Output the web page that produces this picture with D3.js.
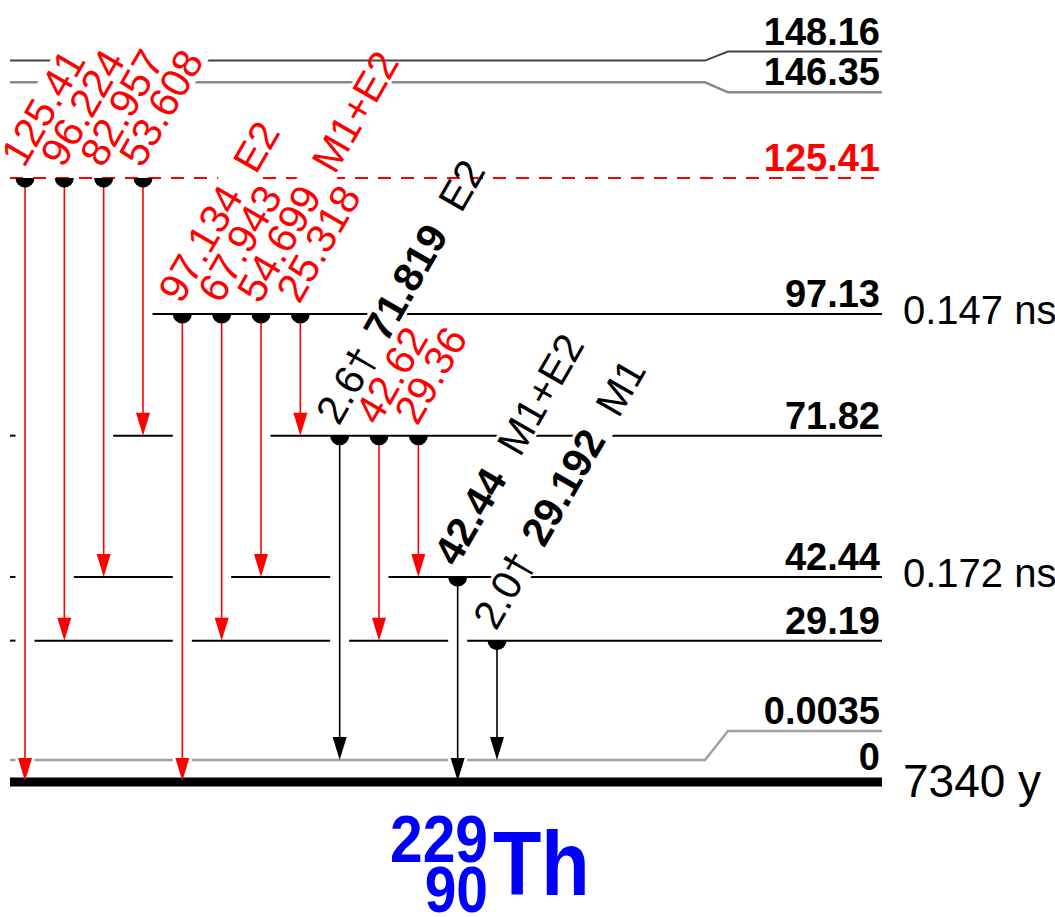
<!DOCTYPE html>
<html>
<head>
<meta charset="utf-8">
<script src="https://cdn.jsdelivr.net/npm/d3@7"></script>
<style>
body { margin: 0; background: #fff; }
text { font-family: "Liberation Sans", Arial, Helvetica, sans-serif; }
</style>
</head>
<body>
<script>
var width = 1055;
var height = 917;

// level energies (keV), their labels and half-lives
var levels = [148.16, 146.35, 125.41, 97.13, 71.82, 42.44, 29.19, 0.0035, 0];
var levelLabels = ['148.16', '146.35', '125.41', '97.13', '71.82', '42.44', '29.19', '0.0035', '0'];
var levelKnown = [1, 1, 0, 1, 1, 1, 1, 1, 1];
var halfLives = ['', '', '', '0.147 ns', '', '0.172 ns', '', '', '7340 y'];

// gamma transitions
var gFrom = [125.41, 125.41, 125.41, 125.41, 97.13, 97.13, 97.13, 97.13, 71.82, 71.82, 71.82, 42.44, 29.19];
var gTo = [0, 29.19, 42.44, 71.82, 0, 29.19, 42.44, 71.82, 0.0035, 29.19, 42.44, 0, 0.0035];
var gEnergy = ['125.41', '96.224', '82.957', '53.608', '97.134', '67.943', '54.699', '25.318', '71.819', '42.62', '29.36', '42.44', '29.192'];
var gMult = ['', '', '', '', 'E2', '', 'M1+E2', '', 'E2', '', '', 'M1+E2', 'M1'];
var gIntensity = ['', '', '', '', '', '', '', '', '2.6\u2020', '', '', '', '2.0\u2020'];
var gKnown = [0, 0, 0, 0, 0, 0, 0, 0, 1, 0, 0, 1, 1];

// layout
var lineX0 = 10, lineX1 = 882, bendA = 705, bendB = 728;
var shiftLeft = { '148.16': -8, '146.35': 5, '0.0035': -21 };
var shiftRight = { '148.16': -17, '146.35': 15, '0.0035': -50 };
var lineStart = { '97.13': 150 };
var gap = 9.5;
var labelAngle = -60;
var labelSize = 41;

var yScale = d3.scaleLinear()
    .domain([0, 125.41])
    .range([781, 178]);

var xScale = d3.scalePoint()
    .domain(d3.range(gEnergy.length))
    .range([25, 497]);

function yLeft(e) { return yScale(e) + (shiftLeft[String(e)] || 0); }
function yRight(e) { return yScale(e) + (shiftRight[String(e)] || 0); }

var svg = d3.select('body')
    .append('svg')
    .attr('width', width)
    .attr('height', height);

var lineLayer = svg.append('g');
var transLayer = svg.append('g');
var bgLayer = svg.append('g');
var labelLayer = svg.append('g');

var line = d3.line();

function clipPoly(pts, a, b) {
    var out = [];
    function at(x) {
        for (var k = 0; k < pts.length - 1; k++) {
            if (x >= pts[k][0] && x <= pts[k + 1][0]) {
                var t = (x - pts[k][0]) / (pts[k + 1][0] - pts[k][0] || 1);
                return [x, pts[k][1] + t * (pts[k + 1][1] - pts[k][1])];
            }
        }
        return [x, pts[pts.length - 1][1]];
    }
    out.push(at(a));
    pts.forEach(function(p) { if (p[0] > a && p[0] < b) out.push(p); });
    out.push(at(b));
    return out;
}

// level lines, broken where transitions pass through them
levels.forEach(function(e, i) {
    if (e === 0) return;
    var x0 = lineStart[levelLabels[i]] || lineX0;
    var yl = yLeft(e), yr = yRight(e);
    var pts = yl === yr ? [[x0, yl], [lineX1, yl]] : [[x0, yl], [bendA, yl], [bendB, yr], [lineX1, yr]];
    var cross = [];
    gFrom.forEach(function(f, j) {
        if (f > e && gTo[j] < e) cross.push(xScale(j));
    });
    cross.sort(d3.ascending);
    var segs = [], cur = x0;
    cross.forEach(function(cx) {
        var a = cx - gap, b = cx + gap;
        if (b <= cur) return;
        if (a > cur) segs.push([cur, a]);
        cur = Math.max(cur, b);
    });
    segs.push([cur, lineX1]);
    segs = segs.filter(function(s) { return s[0] === x0 || s[1] - s[0] >= 25; });

    var colour = '#000', w = 2;
    if (!levelKnown[i]) colour = '#ff0000';
    if (e === 148.16) colour = '#444';
    if (e === 146.35) { colour = '#888'; w = 2.5; }
    if (e === 0.0035) { colour = '#a0a0a0'; w = 2.5; }

    segs.forEach(function(s) {
        lineLayer.append('path')
            .attr('d', line(clipPoly(pts, s[0], s[1])))
            .attr('fill', 'none')
            .attr('stroke', colour)
            .attr('stroke-width', w)
            .attr('stroke-dasharray', levelKnown[i] ? null : '13,10');
    });
});

// transitions
gFrom.forEach(function(f, i) {
    var x = xScale(i);
    var y1 = yLeft(f), y2 = yLeft(gTo[i]);
    var colour = gKnown[i] ? '#000' : '#ff0000';
    transLayer.append('line')
        .attr('x1', x).attr('x2', x)
        .attr('y1', y1).attr('y2', y2 - 20)
        .attr('stroke', colour)
        .attr('stroke-width', 1.6);
    transLayer.append('path')
        .attr('d', 'M' + (x - 7) + ',' + (y2 - 23) + 'L' + (x + 7) + ',' + (y2 - 23) + 'L' + x + ',' + y2 + 'Z')
        .attr('fill', colour);
    transLayer.append('path')
        .attr('d', 'M' + (x - 9.5) + ',' + y1 + 'A9.5,9.5 0 0 0 ' + (x + 9.5) + ',' + y1 + 'Z')
        .attr('fill', '#000');
});

// ground state
lineLayer.append('line')
    .attr('x1', lineX0).attr('x2', lineX1)
    .attr('y1', yScale(0) + 1).attr('y2', yScale(0) + 1)
    .attr('stroke', '#000')
    .attr('stroke-width', 9);

// transition labels
gEnergy.forEach(function(en, i) {
    var x = xScale(i), y = yLeft(gFrom[i]);
    var colour = gKnown[i] ? '#000' : '#ff0000';
    var tr = 'translate(' + (x - 1) + ',' + (y - 9) + ') rotate(' + labelAngle + ')';
    var t = labelLayer.append('text')
        .attr('transform', tr)
        .attr('font-size', labelSize)
        .attr('fill', colour);
    if (gIntensity[i]) t.append('tspan').text(gIntensity[i]);
    t.append('tspan')
        .attr('dx', gIntensity[i] ? 16 : 0)
        .attr('font-weight', gKnown[i] ? 'bold' : 'normal')
        .text(en);
    if (gMult[i]) t.append('tspan').attr('dx', 24).text(gMult[i]);
    var len = t.node().getComputedTextLength();
    bgLayer.append('rect')
        .attr('transform', tr)
        .attr('x', -3).attr('y', -labelSize * 0.77)
        .attr('width', len + 6).attr('height', labelSize * 0.84)
        .attr('fill', '#fff');
});

// level labels and half-lives
levels.forEach(function(e, i) {
    var yr = yRight(e);
    labelLayer.append('text')
        .attr('x', 880)
        .attr('y', e === 0 ? yr - 11 : yr - 7)
        .attr('text-anchor', 'end')
        .attr('font-size', 38)
        .attr('font-weight', 'bold')
        .attr('fill', levelKnown[i] ? '#000' : '#ff0000')
        .text(levelLabels[i]);
    if (halfLives[i]) {
        labelLayer.append('text')
            .attr('x', 903)
            .attr('y', e === 0 ? yr + 16 : yr + 10)
            .attr('font-size', e === 0 ? 46 : 40)
            .attr('fill', '#000')
            .text(halfLives[i]);
    }
});

// nuclide
var nuc = svg.append('g').attr('fill', '#0000ff').attr('font-weight', 'bold');
nuc.append('text')
    .attr('transform', 'translate(488,862) scale(0.89,1)')
    .attr('text-anchor', 'end')
    .attr('font-size', 66)
    .text('229');
nuc.append('text')
    .attr('transform', 'translate(488,912) scale(0.89,1)')
    .attr('text-anchor', 'end')
    .attr('font-size', 64)
    .text('90');
nuc.append('text')
    .attr('transform', 'translate(493,895) scale(0.88,1)')
    .attr('font-size', 90)
    .text('Th');
</script>
</body>
</html>
